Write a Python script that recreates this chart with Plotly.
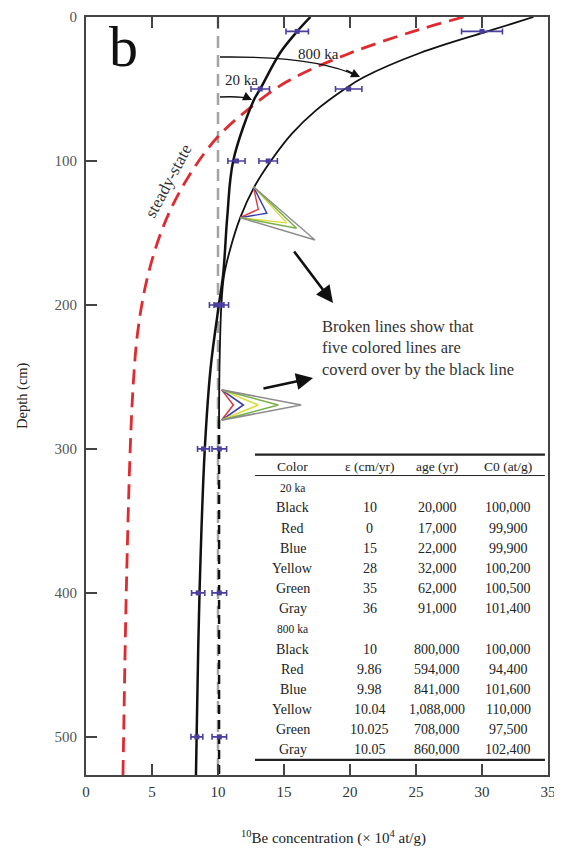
import plotly.graph_objects as go

# ---- data ----
# 20 ka model curve (thick black)
depth_20ka = [0, 10, 25, 50, 58, 100, 139, 178, 201, 243, 300, 400, 500, 526.5]
conc_20ka = [17.0, 16.0, 14.7, 13.2, 12.7, 11.15, 10.7, 10.4, 10.05, 9.45, 9.0, 8.6, 8.38, 8.33]

# 800 ka model curve (thin black), dashed part covers the colored lines
depth_800ka = [0, 10, 25, 42, 50, 65, 81, 100, 118, 139, 162, 180, 201, 240, 280]
conc_800ka = [33.9, 30.4, 25.3, 21.0, 19.6, 17.4, 15.6, 14.0, 12.75, 11.7, 10.9, 10.45, 10.25, 10.12, 10.08]
depth_800ka_tail = [280, 526.5]
conc_800ka_tail = [10.08, 10.08]

# steady-state curve (red dashed)
depth_ss = [0, 10, 26, 45, 65, 83, 106, 132, 157, 187, 220, 252, 300, 400, 500, 526.5]
conc_ss = [28.6, 24.8, 19.75, 15.2, 12.17, 10.0, 8.1, 6.5, 5.4, 4.5, 3.9, 3.6, 3.35, 3.05, 2.85, 2.8]

# inheritance C0 = 10 (gray dashed)
depth_c0 = [0, 526.5]
conc_c0 = [10, 10]

# measured samples
sample_depth = [10, 10, 50, 50, 100, 100, 200, 200, 300, 300, 400, 400, 500, 500]
sample_conc = [16.0, 30.0, 13.2, 19.9, 11.4, 13.8, 9.9, 10.25, 8.9, 10.1, 8.5, 10.1, 8.4, 10.1]
sample_err = [0.85, 1.55, 0.7, 1.0, 0.65, 0.7, 0.55, 0.55, 0.45, 0.55, 0.5, 0.55, 0.45, 0.55]

# table
tbl_header = ["Color", "\u03b5 (cm/yr)", "age (yr)", "C0 (at/g)"]
tbl_colors = ["Black", "Red", "Blue", "Yellow", "Green", "Gray"]
eps_20ka = ["10", "0", "15", "28", "35", "36"]
age_20ka = ["20,000", "17,000", "22,000", "32,000", "62,000", "91,000"]
c0_20ka = ["100,000", "99,900", "99,900", "100,200", "100,500", "101,400"]
eps_800ka = ["10", "9.86", "9.98", "10.04", "10.025", "10.05"]
age_800ka = ["800,000", "594,000", "841,000", "1,088,000", "708,000", "860,000"]
c0_800ka = ["100,000", "94,400", "101,600", "110,000", "97,500", "102,400"]

# colored lines in the zoom fans (innermost to outermost)
fan_colors = ["#e03a3e", "#3a3aa8", "#dcdc3c", "#7ab04a", "#8c8c8c"]
fan1_apex_x = [13.05, 13.7, 15.2, 15.95, 17.35]
fan1_apex_d = [133.6, 136.3, 143.0, 146.7, 154.9]
fan2_apex_x = [11.16, 11.92, 13.05, 14.57, 16.3]

SERIF = "Liberation Serif"
fig = go.Figure()

fig.add_trace(go.Scatter(x=conc_c0, y=depth_c0, mode="lines",
                         line=dict(color="#a3a3a3", width=2.5, dash="12px,7px")))
fig.add_trace(go.Scatter(x=conc_ss, y=depth_ss, mode="lines", line_shape="spline",
                         line=dict(color="#e02a2f", width=2.8, dash="15px,8px")))
fig.add_trace(go.Scatter(x=conc_800ka, y=depth_800ka, mode="lines", line_shape="spline",
                         line=dict(color="#111", width=1.8)))
fig.add_trace(go.Scatter(x=conc_800ka_tail, y=depth_800ka_tail, mode="lines",
                         line=dict(color="#111", width=2.5, dash="9px,6px")))
fig.add_trace(go.Scatter(x=conc_20ka, y=depth_20ka, mode="lines", line_shape="spline",
                         line=dict(color="#111", width=2.5)))

# fans
for c, ax_, ad in zip(fan_colors, fan1_apex_x, fan1_apex_d):
    fig.add_trace(go.Scatter(x=[12.68, ax_, 11.67], y=[117.8, ad, 139.4], mode="lines",
                             line=dict(color=c, width=1.4)))
for c, ax_ in zip(fan_colors, fan2_apex_x):
    fig.add_trace(go.Scatter(x=[10.28, ax_, 10.28], y=[259, 269.5, 280], mode="lines",
                             line=dict(color=c, width=1.6)))

fig.add_trace(go.Scatter(x=sample_conc, y=sample_depth, mode="markers",
                         marker=dict(symbol="square", size=5, color="#4b3f9e"),
                         error_x=dict(type="data", array=sample_err, color="#4b3f9e",
                                      thickness=1.6, width=3)))

ann = []
# panel letter
ann.append(dict(x=2.85, y=20.5, text="b", showarrow=False,
                xanchor="center", yanchor="middle",
                font=dict(family=SERIF, size=58, color="#111")))
ann.append(dict(x=17.65, y=25.7, text="800 ka", showarrow=False,
                font=dict(family=SERIF, size=15, color="#222")))
ann.append(dict(x=11.8, y=43.7, text="20 ka", showarrow=False,
                font=dict(family=SERIF, size=15, color="#222")))
ann.append(dict(x=6.2, y=114, text="steady-state", showarrow=False, textangle=-62,
                font=dict(family=SERIF, size=17, color="#333")))
# arrowheads of the curved arrows
ann.append(dict(x=20.76, y=41.7, ax=19.6, ay=36.5, axref="x", ayref="y", text="",
                showarrow=True, arrowhead=2, arrowsize=1.2, arrowwidth=1.5, arrowcolor="#111"))
ann.append(dict(x=12.58, y=57.6, ax=12.1, ay=55.6, axref="x", ayref="y", text="",
                showarrow=True, arrowhead=2, arrowsize=1.2, arrowwidth=1.5, arrowcolor="#111"))
# big black arrows
ann.append(dict(x=18.71, y=198.6, ax=15.68, ay=161.8, axref="x", ayref="y", text="",
                showarrow=True, arrowhead=2, arrowsize=1.3, arrowwidth=2.6, arrowcolor="#111"))
ann.append(dict(x=17.2, y=250.7, ax=13.33, ay=258.3, axref="x", ayref="y", text="",
                showarrow=True, arrowhead=2, arrowsize=1.3, arrowwidth=2.6, arrowcolor="#111"))
ann.append(dict(x=17.7, y=230, text="Broken lines show that<br>five colored lines are<br>coverd over by the black line",
                showarrow=False, xanchor="left", align="left",
                font=dict(family=SERIF, size=16.5, color="#333")))

# table text
col_x = [15.68, 21.5, 26.6, 31.97]
for cx, h in zip(col_x, tbl_header):
    ann.append(dict(x=cx, y=312.5, text=h, showarrow=False,
                    font=dict(family=SERIF, size=13.5, color="#222")))
row0 = 327.0
step = 14.0
rows = [("20 ka", None)] + list(zip(tbl_colors, zip(eps_20ka, age_20ka, c0_20ka))) + \
       [("800 ka", None)] + list(zip(tbl_colors, zip(eps_800ka, age_800ka, c0_800ka)))
for i, (name, vals) in enumerate(rows):
    yy = row0 + i * step
    if vals is None:
        ann.append(dict(x=col_x[0], y=yy, text=name, showarrow=False,
                        font=dict(family=SERIF, size=11.5, color="#222")))
        continue
    for cx, t in zip(col_x, (name,) + vals):
        ann.append(dict(x=cx, y=yy, text=t, showarrow=False,
                        font=dict(family=SERIF, size=14, color="#222")))

# axis titles
ann.append(dict(x=-0.1385, y=0.5, xref="paper", yref="paper", text="Depth (cm)",
                xanchor="center", yanchor="middle",
                showarrow=False, textangle=-90, font=dict(family=SERIF, size=14.5, color="#222")))
ann.append(dict(x=0.535, y=-0.083, xref="paper", yref="paper",
                xanchor="center", yanchor="middle",
                text="<sup>10</sup>Be concentration (\u00d7 10<sup>4</sup> at/g)",
                showarrow=False, font=dict(family=SERIF, size=15, color="#222")))

shapes = [
    # curved arrow bodies
    dict(type="path", path="M 10.15,27.8 Q 17.5,27.0 20.6,41.2", xref="x", yref="y",
         line=dict(color="#111", width=1.4)),
    dict(type="path", path="M 10.15,55.6 Q 11.9,54.9 12.45,57.2", xref="x", yref="y",
         line=dict(color="#111", width=1.4)),
    # table rules
    dict(type="line", x0=12.8, x1=34.77, y0=304, y1=304, xref="x", yref="y",
         line=dict(color="#222", width=2.2)),
    dict(type="line", x0=12.8, x1=34.77, y0=318.5, y1=318.5, xref="x", yref="y",
         line=dict(color="#222", width=1)),
    dict(type="line", x0=12.8, x1=34.77, y0=516, y1=516, xref="x", yref="y",
         line=dict(color="#222", width=2.2)),
]

# the page body adds an 8px offset, so margins are set to land the frame at 86..548 x 17..775
fig.update_layout(
    width=562, height=848,
    margin=dict(l=78, r=22, t=9, b=81, autoexpand=False),
    plot_bgcolor="white", paper_bgcolor="white",
    showlegend=False,
    annotations=ann, shapes=shapes,
    font=dict(family=SERIF, color="#333"),
)
fig.update_xaxes(range=[0, 35], tickvals=[0, 5, 10, 15, 20, 25, 30, 35],
                 ticks="inside", ticklen=11, tickwidth=1.5, tickcolor="#444",
                 showline=True, linecolor="#444", linewidth=1.8, mirror="ticks",
                 showgrid=False, zeroline=False, automargin=False,
                 ticklabelstandoff=2,
                 tickfont=dict(family=SERIF, size=15, color="#333"))
fig.update_yaxes(range=[526.5, 0], tickvals=[0, 100, 200, 300, 400, 500],
                 ticks="inside", ticklen=11, tickwidth=1.5, tickcolor="#444",
                 showline=True, linecolor="#444", linewidth=1.8, mirror=True,
                 showgrid=False, zeroline=False, automargin=False,
                 ticklabelstandoff=4,
                 tickfont=dict(family=SERIF, size=15, color="#555"))

fig.write_html("out.html")
